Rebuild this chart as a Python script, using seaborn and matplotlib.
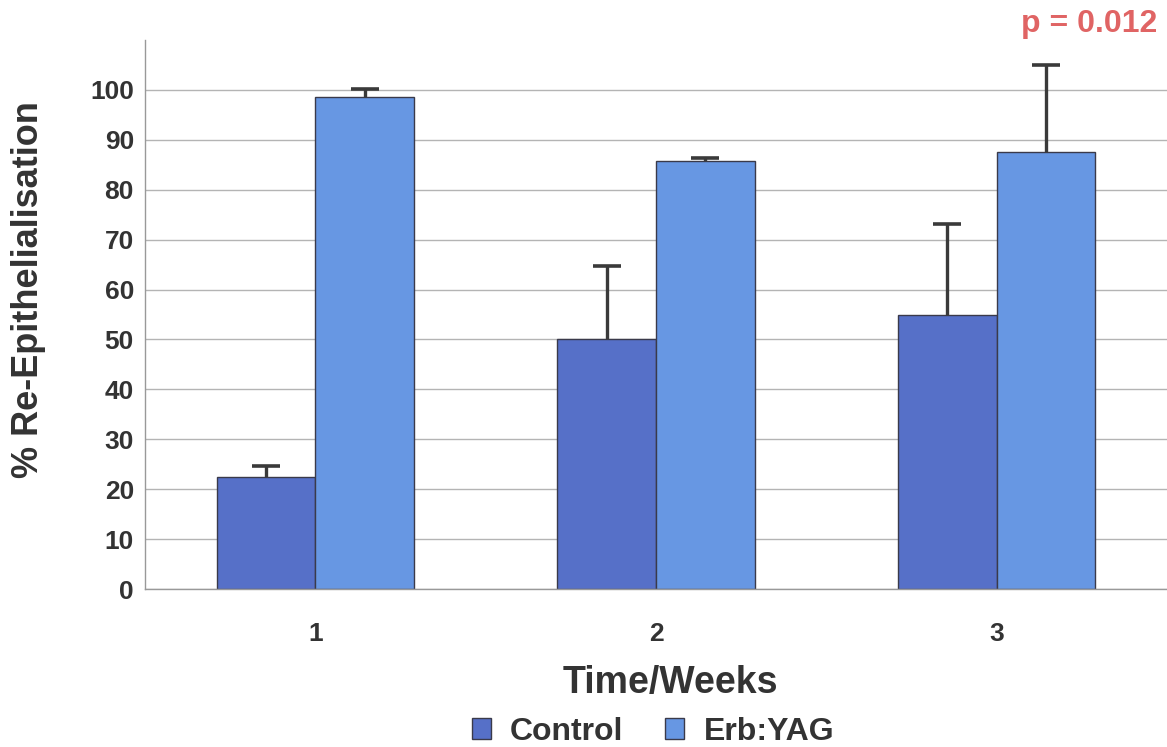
import numpy as np
import pandas as pd
import matplotlib
matplotlib.use("Agg")
import matplotlib.pyplot as plt
import seaborn as sns

# Values
weeks = ["1", "2", "3"]
groups = ["Control", "Erb:YAG"]
control_mean = [22.4, 50.0, 54.8]
control_err = [2.2, 14.8, 18.4]
erb_mean = [98.6, 85.8, 87.6]
erb_err = [1.6, 0.6, 17.4]
y_ticks = list(range(0, 101, 10))
p_text = "p = 0.012"

colors = {"Control": "#5670c8", "Erb:YAG": "#6797e3"}

df = pd.DataFrame({
    "week": weeks * 2,
    "group": [groups[0]] * 3 + [groups[1]] * 3,
    "value": control_mean + erb_mean,
    "err": control_err + erb_err,
})

sns.set_theme(style="white")
plt.rcParams["font.family"] = ["Liberation Sans", "DejaVu Sans"]

fig = plt.figure(figsize=(11.67, 7.47), dpi=100)
ax = fig.add_axes([0.1243, 0.2115, 0.8757, 0.735])

for y in y_ticks:
    ax.axhline(y, color="#b4b4b4", lw=1.0, zorder=0)

sns.barplot(data=df, x="week", y="value", hue="group", order=weeks,
            hue_order=groups, palette=colors, saturation=1, width=0.58,
            errorbar=None, edgecolor="#3a3a4a", linewidth=1.0, ax=ax,
            zorder=2)

# upper-only error bars, centred on each bar
for container, g in zip(ax.containers, groups):
    sub = df[df["group"] == g]
    xs = [b.get_x() + b.get_width() / 2 for b in container]
    _, caps, _ = ax.errorbar(xs, sub["value"],
                             yerr=[np.zeros(len(sub)), sub["err"]],
                             fmt="none", ecolor="#3a3a3a", elinewidth=2.4,
                             capsize=10, capthick=2.6, zorder=3)
    caps[0].set_visible(False)

ax.set_xlim(-0.5, 2.5)
ax.set_ylim(0, 110)
ax.set_yticks(y_ticks)
ax.tick_params(axis="y", length=5, color="#888888", labelsize=19, pad=3)
ax.tick_params(axis="x", length=0, labelsize=19, pad=24)
ax.set_xticks([-0.5, 0.5, 1.5, 2.5], minor=True)
ax.tick_params(axis="x", which="minor", length=5, color="#888888")
for lab in ax.get_xticklabels() + ax.get_yticklabels():
    lab.set_fontweight("bold")
    lab.set_color("#333333")

for side in ["top", "right"]:
    ax.spines[side].set_visible(False)
for side in ["left", "bottom"]:
    ax.spines[side].set_color("#999999")
    ax.spines[side].set_linewidth(1.0)

ax.set_ylabel("% Re-Epithelialisation", fontsize=26, fontweight="bold",
              color="#333333")
ax.yaxis.set_label_coords(-0.097, 0.545)
ax.set_xlabel("Time/Weeks", fontsize=27, fontweight="bold", color="#333333")
ax.xaxis.set_label_coords(0.514, -0.138)

ax.legend(loc="center", bbox_to_anchor=(0.497, -0.26),
          ncol=2, frameon=False, handlelength=0.6, handleheight=0.6,
          columnspacing=1.3, handletextpad=0.6, borderaxespad=0,
          prop={"size": 23, "weight": "bold"})
for t in ax.get_legend().get_texts():
    t.set_color("#333333")

fig.text(0.992, 0.968, p_text, ha="right", va="center", fontsize=23,
         fontweight="bold", color="#e06464")

fig.savefig("out.png", dpi=100)
